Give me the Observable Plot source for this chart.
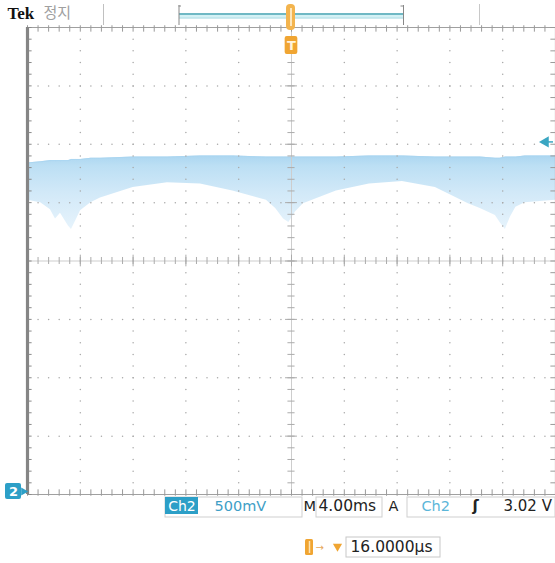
<!DOCTYPE html>
<html><head><meta charset="utf-8">
<script src="https://cdn.jsdelivr.net/npm/d3@7"></script>
<script src="https://cdn.jsdelivr.net/npm/@observablehq/plot@0.6"></script>
<style>
body{margin:0;background:#fff}
#chart svg{display:block;overflow:visible}
</style>
</head><body><div id="chart"></div>
<script>
// ---- waveform envelope (Ch2), time in ms relative to trigger, volts ----
const timeMs = [-20, -19.0, -18.26, -17.88, -17.5, -16.9, -16.67, -16.36, -15.98, -15.2, -14.47, -12.0, -9.4, -6.9, -4.45, -1.9, -1.2, -0.6, -0.2, 0.3, 0.9, 3.4, 5.9, 8.4, 10.9, 13.4, 14.3, 15.45, 15.8, 16.2, 16.6, 17.0, 17.7, 20];
const upperV = [2.84, 2.85, 2.86, 2.86, 2.86, 2.86, 2.87, 2.87, 2.87, 2.88, 2.88, 2.89, 2.89, 2.90, 2.90, 2.89, 2.89, 2.89, 2.89, 2.89, 2.89, 2.89, 2.90, 2.90, 2.89, 2.89, 2.89, 2.88, 2.88, 2.89, 2.89, 2.89, 2.90, 2.90];
const lowerV = [2.52, 2.50, 2.44, 2.36, 2.41, 2.30, 2.27, 2.34, 2.43, 2.50, 2.54, 2.63, 2.67, 2.66, 2.60, 2.52, 2.45, 2.36, 2.33, 2.42, 2.49, 2.60, 2.66, 2.68, 2.63, 2.49, 2.45, 2.39, 2.33, 2.27, 2.38, 2.46, 2.50, 2.52];

// ---- graticule: 4 ms/div horizontally, 500 mV/div vertically ----
const xMajor = [-20, -16, -12, -8, -4, 0, 4, 8, 12, 16, 20];
const yMajor = [0, 0.5, 1, 1.5, 2, 2.5, 3, 3.5, 4];
const triggerLevelV = [3.02];
const triggerTimeMs = [0];

// ---- readout texts ----
const brandLabel = ["Tek"];
const stateLabel = ["정지"];
const chLabel = ["Ch2"];
const voltsLabel = ["500mV"];
const timebaseLabels = ["M", "4.00ms"];
const trigLabels = ["A", "Ch2", "ʃ", "3.02 V"];
const groundLabel = ["2"];
const delayLabel = ["16.0000µs"];

const W = 555, H = 563;
const X0 = 27, X1 = 555, Y0 = 494, Y1 = 27;
const px2x = px => -20 + (px - X0) * 40 / (X1 - X0);
const py2y = py => (Y0 - py) * 4 / (Y0 - Y1);

const wave = timeMs.map((t, i) => ({t, hi: upperV[i], lo: lowerV[i]}));

const xStep = (xMajor[1] - xMajor[0]) / 5;
const yStep = (yMajor[1] - yMajor[0]) / 5;
const xMinor = d3.range(0, 51).map(i => +(xMajor[0] + i * xStep).toFixed(3));
const yMinor = d3.range(0, 41).map(i => +(yMajor[0] + i * yStep).toFixed(3));
const xMid = xMajor[5], yMid = yMajor[4];
const xMin = xMajor[0], xMax = xMajor[xMajor.length-1];
const yMin = yMajor[0], yMax = yMajor[yMajor.length-1];

const dotsV = [];
xMajor.filter(v => v !== xMin && v !== xMax && v !== xMid).forEach(x => yMinor.forEach(y => dotsV.push({x, y})));
const dotsH = [];
yMajor.filter(v => v !== yMin && v !== yMax && v !== yMid).forEach(y => xMinor.forEach(x => dotsH.push({x, y})));

const sans = "'DejaVu Sans', sans-serif";
const teal = "#2c9fc7";
const orange = "#f0a532";
const one = [0];

const plot = Plot.plot({
  width: W, height: H,
  marginLeft: 0, marginRight: 0, marginTop: 0, marginBottom: 0,
  x: {domain: [xMin, xMax], range: [X0, X1], axis: null},
  y: {domain: [yMin, yMax], range: [Y0, Y1], axis: null},
  style: {background: "#fff", overflow: "visible"},
  marks: [
    // waveform envelope
    Plot.areaY(wave, {x: "t", y1: "lo", y2: "hi", fill: "url(#waveGrad)", curve: "linear"}),
    Plot.line(wave, {x: "t", y: "hi", stroke: "#a9d5f0", strokeWidth: 1, strokeOpacity: 0.8}),

    // graticule dots
    Plot.dot(dotsV, {x: "x", y: "y", r: 0.75, fill: "#a8a8a8", stroke: null}),
    Plot.dot(dotsH, {x: "x", y: "y", r: 0.75, fill: "#a8a8a8", stroke: null}),

    // centre cross with ticks
    Plot.ruleY([yMid], {x1: xMin, x2: xMax, stroke: "#cdcdcd", strokeWidth: 1}),
    Plot.ruleX([xMid], {y1: yMin, y2: yMax, stroke: "#cdcdcd", strokeWidth: 1}),
    Plot.ruleX(xMinor, {x: d => d, y1: yMid - 0.03, y2: yMid + 0.03, stroke: "#ababab"}),
    Plot.ruleX(xMajor, {x: d => d, y1: yMid - 0.05, y2: yMid + 0.05, stroke: "#ababab"}),
    Plot.ruleY(yMinor, {y: d => d, x1: xMid - 0.27, x2: xMid + 0.27, stroke: "#ababab"}),
    Plot.ruleY(yMajor, {y: d => d, x1: xMid - 0.45, x2: xMid + 0.45, stroke: "#ababab"}),

    // border + edge ticks
    Plot.ruleY([yMax], {x1: xMin, x2: xMax, stroke: "#a0a0a0", strokeWidth: 1.2}),
    Plot.ruleY([yMin], {x1: xMin, x2: xMax, stroke: "#a0a0a0", strokeWidth: 1.2}),
    Plot.ruleX([xMax], {y1: yMin, y2: yMax, stroke: "#a0a0a0", strokeWidth: 1.2}),
    Plot.ruleX(xMinor, {x: d => d, y1: yMax + 0.015, y2: yMax - 0.04, stroke: "#9a9a9a"}),
    Plot.ruleX(xMinor, {x: d => d, y1: yMin - 0.015, y2: yMin + 0.04, stroke: "#9a9a9a"}),
    Plot.ruleY(yMinor, {y: d => d, x1: xMin, x2: xMin + 0.35, stroke: "#8a8a8a"}),
    Plot.ruleY(yMinor, {y: d => d, x1: xMax - 0.35, x2: xMax, stroke: "#9a9a9a"}),
    Plot.ruleX([xMin], {y1: yMin, y2: yMax, stroke: "#858585", strokeWidth: 3.2}),

    // trigger level marker (right)
    Plot.ruleY(triggerLevelV, {x1: px2x(546), x2: px2x(553), stroke: "#3aa6c2", strokeWidth: 1.5}),
    Plot.dot(triggerLevelV, {x: px2x(545), y: d => d, symbol: "triangle", r: 4.2, rotate: -90, fill: "#3aa6c2", stroke: null}),

    // ground marker (left)
    Plot.rect(one, {x1: px2x(5), x2: px2x(21), y1: py2y(483), y2: py2y(499), fill: teal, rx: 2}),
    Plot.dot(one, {x: px2x(23), y: py2y(491), symbol: "triangle", r: 3, rotate: 90, fill: teal, stroke: null}),
    Plot.text(groundLabel, {x: px2x(13), y: py2y(491.5), text: d => d, fill: "#fff", fontSize: 13, fontWeight: "bold", fontFamily: sans}),

    // top status bar
    Plot.text(brandLabel, {x: px2x(7), y: py2y(13), text: d => d, textAnchor: "start", fontSize: 17, fontWeight: "bold", fontFamily: "'Liberation Serif', serif", fill: "#111"}),
    Plot.text(stateLabel, {x: px2x(43), y: py2y(13), text: d => d, textAnchor: "start", fontSize: 15, fontFamily: "'Noto Sans CJK KR', sans-serif", fill: "#a0a0a0"}),
    Plot.ruleX(one, {x: px2x(103), y1: py2y(4), y2: py2y(25), stroke: "#c0c0c0"}),
    Plot.ruleX(one, {x: px2x(479), y1: py2y(4), y2: py2y(25), stroke: "#c8c8c8"}),
    Plot.rect(one, {x1: px2x(179), x2: px2x(403), y1: py2y(17.5), y2: py2y(13), fill: "#d3f1f5"}),
    Plot.ruleY(one, {y: py2y(13.5), x1: px2x(179), x2: px2x(403), stroke: "#4ea4b3", strokeWidth: 1.5}),
    Plot.ruleY(one, {y: py2y(17.5), x1: px2x(179), x2: px2x(403), stroke: "#9bd6e0", strokeWidth: 1}),
    Plot.ruleX(one, {x: px2x(178.5), y1: py2y(5), y2: py2y(25), stroke: "#888"}),
    Plot.ruleX(one, {x: px2x(403), y1: py2y(5), y2: py2y(25), stroke: "#888"}),
    Plot.ruleY(one, {y: py2y(5.5), x1: px2x(178.5), x2: px2x(181), stroke: "#888"}),
    Plot.ruleY(one, {y: py2y(5.5), x1: px2x(400.5), x2: px2x(403), stroke: "#888"}),
    // trigger position marker on the record bar
    Plot.rect(one, {x1: px2x(286), x2: px2x(295), y1: py2y(30), y2: py2y(4), fill: "#f3b44e", rx: 4}),
    Plot.ruleX(one, {x: px2x(290.5), y1: py2y(26), y2: py2y(8), stroke: "#fde6bb", strokeWidth: 2}),
    // trigger time marker "T"
    Plot.rect(triggerTimeMs, {x1: d => d - 0.48, x2: d => d + 0.48, y1: py2y(54), y2: py2y(36), fill: orange, rx: 2}),
    Plot.text(triggerTimeMs, {x: d => d, y: py2y(45.5), text: () => "T", fill: "#fff3dc", fontSize: 13, fontWeight: "bold", fontFamily: sans}),

    // bottom readout, row 1
    Plot.rect(one, {x1: px2x(165), x2: px2x(302), y1: py2y(517), y2: py2y(497), fill: "none", stroke: "#cfcfcf"}),
    Plot.rect(one, {x1: px2x(165), x2: px2x(198), y1: py2y(514), y2: py2y(497), fill: teal}),
    Plot.text(chLabel, {x: px2x(181.5), y: py2y(506), text: d => d, fill: "#fff", fontSize: 14, fontFamily: sans}),
    Plot.text(voltsLabel, {x: px2x(214), y: py2y(506), text: d => d, textAnchor: "start", fill: "#3e9ec6", fontSize: 14.5, fontFamily: sans}),
    Plot.text(timebaseLabels.slice(0, 1), {x: px2x(303), y: py2y(506), text: d => d, textAnchor: "start", fill: "#222", fontSize: 14.5, fontFamily: sans}),
    Plot.rect(one, {x1: px2x(316), x2: px2x(382), y1: py2y(517), y2: py2y(497), fill: "none", stroke: "#cfcfcf"}),
    Plot.text(timebaseLabels.slice(1), {x: px2x(318), y: py2y(506), text: d => d, textAnchor: "start", fill: "#222", fontSize: 15.5, fontFamily: sans}),
    Plot.text(trigLabels.slice(0, 1), {x: px2x(388), y: py2y(506), text: d => d, textAnchor: "start", fill: "#222", fontSize: 14.5, fontFamily: sans}),
    Plot.rect(one, {x1: px2x(407), x2: px2x(555), y1: py2y(517), y2: py2y(497), fill: "none", stroke: "#cfcfcf"}),
    Plot.text(trigLabels.slice(1, 2), {x: px2x(421), y: py2y(506), text: d => d, textAnchor: "start", fill: "#5bb6d9", fontSize: 14.5, fontFamily: sans}),
    Plot.text(trigLabels.slice(2, 3), {x: px2x(472), y: py2y(506), text: d => d, textAnchor: "start", fill: "#222", fontSize: 15, fontWeight: "bold", fontFamily: sans}),
    Plot.text(trigLabels.slice(3), {x: px2x(503), y: py2y(506), text: d => d, textAnchor: "start", fill: "#222", fontSize: 15, fontFamily: sans}),

    // bottom readout, row 2 (trigger delay)
    Plot.rect(one, {x1: px2x(305), x2: px2x(313), y1: py2y(555), y2: py2y(539), fill: orange, rx: 1.5}),
    Plot.ruleX(one, {x: px2x(309), y1: py2y(553), y2: py2y(541), stroke: "#fde3b5", strokeWidth: 1.5}),
    Plot.text(["→"], {x: px2x(315), y: py2y(547), text: d => d, textAnchor: "start", fill: "#e7a85a", fontSize: 10, fontFamily: sans}),
    Plot.dot(one, {x: px2x(337), y: py2y(546), symbol: "triangle", r: 3.4, rotate: 180, fill: orange, stroke: null}),
    Plot.rect(one, {x1: px2x(346), x2: px2x(440), y1: py2y(557), y2: py2y(537), fill: "none", stroke: "#c8c8c8"}),
    Plot.text(delayLabel, {x: px2x(350), y: py2y(547), text: d => d, textAnchor: "start", fill: "#222", fontSize: 15.5, fontFamily: sans})
  ]
});

const svg = d3.select(plot);
const defs = svg.insert("defs", ":first-child");
const g = defs.append("linearGradient").attr("id", "waveGrad")
  .attr("gradientUnits", "userSpaceOnUse").attr("x1", 0).attr("x2", 0).attr("y1", 154).attr("y2", 232);
[[0, "#a9d5f0"], [0.15, "#bcdff4"], [0.5, "#d2e9f8"], [1, "#e8f4fc"]].forEach(([o, c]) =>
  g.append("stop").attr("offset", o).attr("stop-color", c));

document.getElementById("chart").appendChild(plot);
</script>
</body></html>
